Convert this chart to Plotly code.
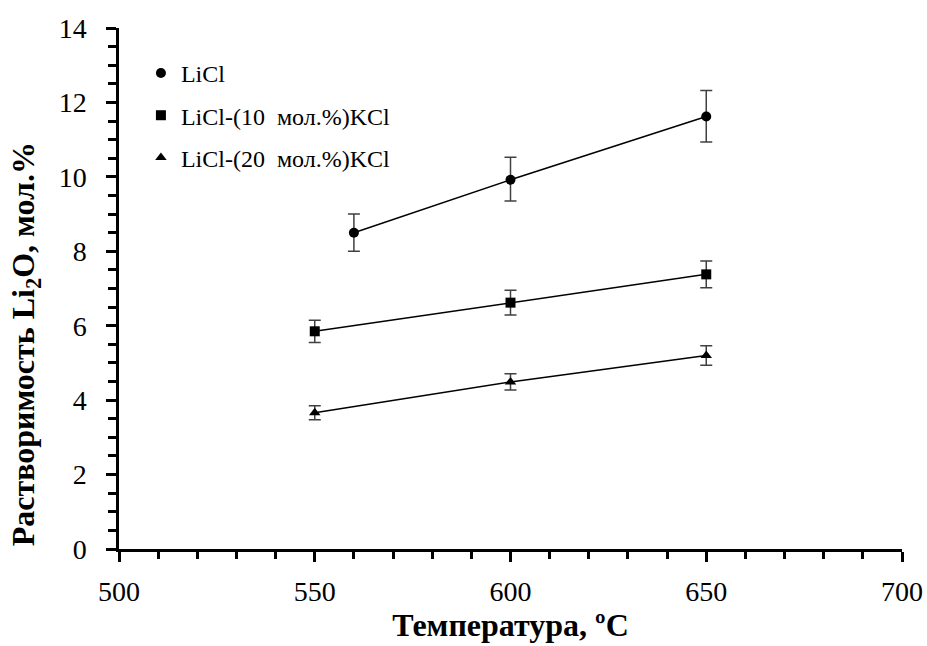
import plotly.graph_objects as go

names = ["LiCl", "LiCl-(10  мол.%)KCl", "LiCl-(20  мол.%)KCl"]
symbols = ["circle", "square", "triangle-up"]

x_licl = [560, 600, 650]
y_licl = [8.5, 9.92, 11.62]
e_licl_plus = [0.5, 0.61, 0.7]
e_licl_minus = [0.5, 0.57, 0.68]

x_k10 = [550, 600, 650]
y_k10 = [5.85, 6.62, 7.38]
e_k10 = [0.3, 0.33, 0.36]

x_k20 = [550, 600, 650]
y_k20 = [3.66, 4.49, 5.2]
e_k20 = [0.19, 0.22, 0.26]

series = [
    (x_licl, y_licl, e_licl_plus, e_licl_minus),
    (x_k10, y_k10, e_k10, e_k10),
    (x_k20, y_k20, e_k20, e_k20),
]

fig = go.Figure()
for i, (xs, ys, ep, em) in enumerate(series):
    fig.add_trace(go.Scatter(
        x=xs, y=ys, mode="lines+markers", name=names[i],
        showlegend=False,
        line=dict(color="black", width=1.5),
        marker=dict(symbol=symbols[i], size=10, color="black"),
        error_y=dict(type="data", symmetric=False, array=ep, arrayminus=em,
                     color="#404040", thickness=1.5, width=6),
    ))
# legend entries (marker only, as in the reference)
for i in range(3):
    fig.add_trace(go.Scatter(
        x=[None], y=[None], mode="markers", name=names[i],
        legendgroup=f"g{i}",
        marker=dict(symbol=symbols[i], size=10, color="black"),
    ))

font_family = "Liberation Serif"

fig.update_layout(
    width=927, height=646,
    margin=dict(l=119, r=25, t=28, b=97),
    paper_bgcolor="white", plot_bgcolor="white",
    font=dict(family=font_family, color="black", size=28),
    showlegend=True,
    legend=dict(x=0.028, y=0.956, xanchor="left", yanchor="top",
                font=dict(family=font_family, size=24, color="black"),
                bgcolor="rgba(0,0,0,0)", tracegroupgap=8,
                itemwidth=30),
    xaxis=dict(
        range=[500, 700], dtick=50, tick0=500,
        automargin=False,
        showgrid=False, zeroline=False,
        showline=True, linecolor="black", linewidth=2.5,
        ticks="outside", ticklen=10, tickwidth=2.5, tickcolor="black",
        minor=dict(dtick=10, ticks="outside", ticklen=7, tickwidth=2.5, tickcolor="black", showgrid=False),
        tickfont=dict(size=28, family=font_family),
        ticklabelstandoff=6,
        title=dict(text="<b>Температура, ºC</b>", font=dict(size=32, family=font_family), standoff=8),
    ),
    yaxis=dict(
        range=[0, 14], dtick=2, tick0=0,
        automargin=False,
        showgrid=False, zeroline=False,
        showline=True, linecolor="black", linewidth=2.5,
        ticks="outside", ticklen=10, tickwidth=2.5, tickcolor="black",
        minor=dict(dtick=0.5, ticks="outside", ticklen=8, tickwidth=2.5, tickcolor="black", showgrid=False),
        tickfont=dict(size=28, family=font_family),
        ticklabelstandoff=14,
    ),
    annotations=[dict(
        text="<b>Растворимость Li<sub>2</sub>O, мол.%</b>",
        xref="paper", yref="paper", x=-0.12, y=0.393,
        xanchor="center", yanchor="middle", textangle=-90, showarrow=False,
        font=dict(size=32, family=font_family, color="black"),
    )],
)

fig.write_html("out.html")
